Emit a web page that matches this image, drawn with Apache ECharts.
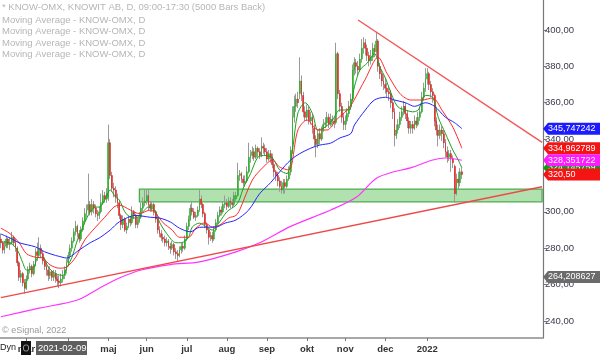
<!DOCTYPE html>
<html>
<head>
<meta charset="utf-8">
<script src="https://cdn.jsdelivr.net/npm/echarts@6/dist/echarts.min.js"></script>
<style>
  html, body { margin: 0; padding: 0; background: #fff; }
  #chart { width: 600px; height: 355px; }
</style>
</head>
<body>
<div id="chart"></div>
<script>
// daily candles KNOW-OMX, from 2021-02-09
const opens = [
  285,283,279,281,285,282,283,286,283,280, 272,264,266,261,258,263,268,270,266,271,
  278,276,280,277,273,270,268,265,267,264, 266,263,262,261,263,265,268,272,276,280,
  284,289,292,288,285,290,295,299,301,304, 300,304,302,299,298,300,305,309,307,308,
  338,320,313,312,308,305,298,293,296,290, 292,296,294,300,298,293,295,297,302,305,
  306,309,304,302,304,300,296,290,288,286, 285,283,284,281,280,282,278,277,276,279,
  281,280,285,292,296,302,300,297,298,301, 307,304,299,293,290,286,287,285,290,294,
  298,301,300,304,305,303,306,305,304,307, 309,320,321,318,316,317,322,330,331,333,
  330,335,333,331,336,335,333,329,332,330, 326,322,320,317,314,312,316,314,318,322,
  334,352,358,362,365,372,364,355,352,356, 350,352,346,340,337,343,340,345,348,349,
  352,348,351,350,349,387,365,358,352,348, 350,354,358,362,378,382,380,378,384,390,
  393,390,386,383,385,390,388,394,380,376, 372,370,368,366,365,360,355,342,345,348,
  352,355,358,354,350,346,348,346,350,348, 352,355,363,368,373,376,370,366,364,350,
  345,342,345,343,338,333,330,332,329,325, 310,318,316,322
]
const closes = [
  283,279,281,285,282,283,286,283,280,272, 264,266,261,258,263,268,270,266,271,278,
  276,280,277,273,270,268,265,267,264,266, 263,262,261,263,265,268,272,276,280,284,
  289,292,288,285,290,295,299,301,304,300, 304,302,299,298,300,305,309,307,310,338,
  320,313,312,308,305,298,293,296,290,292, 296,294,300,298,293,295,297,302,305,306,
  309,304,302,304,300,296,290,288,286,285, 283,284,281,280,282,278,277,276,279,281,
  280,285,292,296,302,300,297,298,301,307, 304,299,293,290,286,287,285,290,294,298,
  301,300,304,305,303,306,305,304,309,309, 320,321,318,316,317,322,330,331,333,330,
  335,333,331,336,335,333,329,332,330,326, 322,320,317,314,312,316,314,318,322,334,
  352,358,362,360,372,364,355,352,356,350, 352,346,340,337,343,340,345,348,349,352,
  348,351,350,349,387,365,358,352,348,350, 354,358,362,378,382,380,378,384,390,393,
  390,386,383,385,390,388,394,380,376,372, 370,368,366,365,360,355,342,345,348,352,
  355,358,354,350,346,348,346,350,348,352, 355,363,368,373,376,370,366,364,350,345,
  342,345,343,338,333,330,332,329,327,310, 318,316,322,320.5
]
const lows = [
  280,277,277,280,280,279,282,281,278,270, 262,261,259,255,257,262,266,264,265,270,
  273,275,275,271,268,265,262,263,262,262, 261,259,258,259,261,263,266,270,274,278,
  283,287,286,283,284,289,293,297,299,298, 298,299,297,295,296,299,304,305,305,306,
  318,311,308,305,302,296,290,291,289,288, 291,292,293,296,291,291,294,296,300,303,
  304,301,300,300,298,294,288,286,284,283, 281,281,279,277,279,276,274,273,275,277,
  278,279,284,290,295,298,296,295,297,300, 302,297,291,288,282,284,283,284,289,293,
  297,298,299,302,301,302,302,302,303,306, 308,317,316,314,314,316,321,327,329,328,
  329,330,329,330,332,331,327,328,327,324, 319,317,314,311,310,310,310,313,317,320,
  332,349,355,357,362,361,352,350,350,348, 348,343,336,330,335,337,339,344,346,347,
  346,347,347,346,348,362,355,349,345,345, 348,352,356,361,375,376,375,377,382,387,
  386,383,380,381,383,385,386,377,373,369, 367,365,363,361,357,351,336,340,343,346,
  350,353,351,346,343,343,343,345,346,347, 350,354,361,366,370,367,363,360,347,342,
  336,340,339,335,330,327,328,322,324,305, 309,312,314,318
]
const highs = [
  288,284,284,287,286,286,289,287,285,281, 273,268,267,263,265,270,272,271,273,280,
  283,286,282,279,275,272,270,270,268,268, 268,265,265,266,268,270,274,278,282,286,
  291,295,293,290,292,297,302,304,321,306, 307,306,304,301,303,310,312,311,313,348,
  340,322,316,314,310,306,299,298,297,294, 298,297,303,301,299,297,300,305,308,312,
  312,312,306,306,305,301,297,292,290,288, 287,286,285,283,284,283,280,279,281,283,
  283,287,294,298,304,306,302,300,303,312, 309,305,300,294,291,289,289,292,296,300,
  303,303,306,309,307,308,308,307,311,311, 327,323,322,320,320,325,338,334,336,335,
  337,336,335,341,338,337,335,334,334,332, 328,323,322,319,317,318,318,320,325,336,
  358,364,365,366,385,375,366,358,359,358, 355,354,348,342,345,346,347,351,352,355,
  354,354,353,352,393,388,367,360,354,353, 357,361,365,381,385,384,383,387,395,396,
  395,392,388,389,393,392,399,395,382,378, 375,373,371,369,367,362,357,348,351,355,
  358,361,360,356,352,350,350,353,352,355, 358,366,371,379,379,377,372,368,365,352,
  348,348,347,345,340,336,334,334,331,326, 321,322,324,324
]

// moving averages as [bar index, value]
const maShort = [
  [0,283.4],[5,283],[9,279],[12,272],[14,268],[18,269],[20,274.6],[23,275],[26,269.6],[30,266],
  [34,265],[36,269],[39,275],[42,284.5],[46,294],[49,300],[52,302.6],[54,302.6],[57,306.5],[60,312],
  [63,308],[65,306.5],[68,300],[71,297],[74,296.6],[77,299],[81,302.6],[85,300],[87,294.4],[91,288],
  [96,283],[99,283],[103,286],[105,291.6],[109,293.8],[113,291.6],[116,290],[120,294.4],[124,300],[129,303.7],
  [131,307],[133,313],[137,321],[141,330],[145,331],[149,329.6],[153,323],[157,321],[160,334],[163,354.4],
  [167,360],[171,354],[174,345],[178,346.6],[182,350.5],[186,356],[191,356],[194,368.7],[197,378],[201,381.8],
  [205,387],[208,379.6],[211,373.6],[215,363],[218,357.6],[222,356],[226,355],[229,356],[233,364],[237,363],
  [240,352],[244,343],[248,334],[251,328.5],[253,324.1]
]
const maMid = [
  [0,291],[5,288],[10,283],[14,277],[19,275],[23,274.5],[27,270.8],[32,269],[36,269.6],[41,275],
  [46,284.5],[52,291.6],[57,297],[62,302.6],[65,303.7],[71,301],[76,299],[82,301],[85,299],[89,294],
  [94,290],[98,286],[103,286],[107,291],[112,294],[116,291.6],[120,292.7],[125,296.6],[129,298],[131,301],
  [138,317.5],[144,324.6],[149,328.5],[153,324.6],[158,323],[163,345],[168,350.5],[174,345],[179,345],[184,350.5],
  [190,356],[193,360],[200,373],[207,385],[212,376],[219,365],[225,361.5],[231,361.5],[237,362.6],[242,356],
  [248,346.6],[253,334.96]
]
const maLong = [
  [0,287.8],[5,285.6],[10,283],[19,280.7],[24,278],[30,276],[32,275.5],[36,274.6],[43,279],[49,283],
  [54,285.6],[60,290],[65,294.5],[74,298],[82,297],[87,296.6],[93,294.4],[98,291],[104,289],[109,291.5],
  [118,291.6],[123,293.8],[129,295.5],[136,301],[142,310],[148,316],[153,322],[159,328.5],[164,332],[170,335],
  [175,336.7],[181,337.8],[186,340.6],[192,343],[194,347.7],[200,356],[205,361.5],[211,363],[216,361.5],[222,360],
  [227,358],[233,360],[238,358],[244,352],[249,349],[253,345.75]
]
const ma200 = [
  [0,242.3],[21,247],[42,251.5],[54,258],[65,263.6],[77,268],[93,271],[109,272.5],[129,278],[142,283],
  [159,292],[181,301],[195,308],[207,319],[226,324.6],[237,328.5],[244,329.6],[253,328.35]
]

// trend lines [bar index, value]
const resistLine = [[196, 405.5], [297, 338.2]]
const supportLine = [[0, 252.8], [297, 313.8]]
// support zone
const zoneTop = 312.5
const zoneBottom = 305.5
const zoneStart = 76

const tagValues = [264.208627, 345.747242, 334.962789, 324.145759, 328.351722, 320.50]
const tagTexts = ['264,208627', '345,747242', '334,962789', '324,145759', '328,351722', '320,50']
const tagColors = ['#6b6b6b', '#1c1cff', '#f41414', '#139a13', '#ff1aff', '#f41414']

const monthNames = ['jan', 'feb', 'mar', 'apr', 'maj', 'jun', 'jul', 'aug', 'sep', 'okt', 'nov', 'dec']

// trading days (weekdays) up to end of march 2022
const dates = []
for (let d = new Date(Date.UTC(2021, 1, 9)); d <= new Date(Date.UTC(2022, 2, 31)); d.setUTCDate(d.getUTCDate() + 1)) {
  const wd = d.getUTCDay()
  if (wd === 0 || wd === 6) continue
  dates.push(d.toISOString().slice(0, 10))
}
const lastBar = opens.length - 1

function isMonthStart(i) {
  if (i <= 0 || i > lastBar) return false
  return dates[i].slice(0, 7) !== dates[i - 1].slice(0, 7)
}

const wickData = opens.map((o, i) => [o, closes[i], lows[i], highs[i]])
const bodyData = opens.map((o, i) => [o, closes[i], Math.min(o, closes[i]), Math.max(o, closes[i])])

const FONT = '"Liberation Sans", Arial, sans-serif'

function maSeries(name, data, color, width) {
  return {
    name: name,
    type: 'line',
    data: data,
    smooth: 0.3,
    symbol: 'none',
    z: 4,
    lineStyle: { color: color, width: width },
    silent: true,
  }
}

const option = {
  animation: false,
  backgroundColor: '#fff',
  grid: { left: 0, right: 57, top: 0, bottom: 17 },
  xAxis: {
    type: 'category',
    data: dates,
    boundaryGap: true,
    axisLine: { show: true, lineStyle: { color: '#8c8c8c', width: 1.5 } },
    axisTick: {
      show: true,
      alignWithLabel: true,
      interval: (i) => isMonthStart(i),
      length: 3,
      lineStyle: { color: '#777' },
    },
    axisLabel: {
      interval: (i) => isMonthStart(i),
      formatter: (v) => {
        const m = +v.slice(5, 7)
        if (m === 1) return v.slice(0, 4)
        if (m === 4) return ''
        return monthNames[m - 1]
      },
      color: '#333',
      fontWeight: 'bold',
      fontSize: 9.5,
      fontFamily: FONT,
      margin: 6,
    },
    splitLine: { show: false },
  },
  yAxis: {
    type: 'value',
    position: 'right',
    min: 230.6,
    max: 416.5,
    splitNumber: 9,
    axisLine: { show: true, lineStyle: { color: '#777', width: 1.2 } },
    axisTick: { show: true, length: 4, lineStyle: { color: '#777' } },
    axisLabel: {
      showMinLabel: false,
      showMaxLabel: false,
      formatter: (v) => (Math.abs(v % 20) < 0.001 ? v.toFixed(2).replace('.', ',') : ''),
      color: '#3a3a4a',
      fontSize: 9.5,
      fontFamily: FONT,
      margin: 2,
    },
    splitLine: { show: false },
  },
  series: [
    {
      name: 'wicks',
      type: 'candlestick',
      data: wickData,
      barWidth: 1,
      z: 2,
      silent: true,
      itemStyle: { color: '#9a9a9a', color0: '#9a9a9a', borderColor: '#9a9a9a', borderColor0: '#9a9a9a', borderWidth: 1 },
      markArea: {
        silent: true,
        itemStyle: { color: 'rgba(100,196,96,0.5)', borderColor: '#4cab4c', borderWidth: 1.3 },
        data: [[{ xAxis: dates[zoneStart], yAxis: zoneTop }, { xAxis: dates[dates.length - 1], yAxis: zoneBottom }]],
      },
    },
    {
      name: 'bodies',
      type: 'candlestick',
      data: bodyData,
      barWidth: '75%',
      z: 3,
      silent: true,
      itemStyle: { color: '#22b222', color0: '#e41e1e', borderColor: '#22b222', borderColor0: '#e41e1e', borderWidth: 0.5 },
    },
    maSeries('ma short', maShort, '#1e9e1e', 1),
    maSeries('ma mid', maMid, '#ff2a2a', 1),
    maSeries('ma long', maLong, '#2424ff', 1),
    maSeries('ma 200', ma200, '#ff33ff', 1.2),
    {
      name: 'resist',
      type: 'line',
      data: resistLine,
      symbol: 'none',
      z: 5,
      silent: true,
      lineStyle: { color: '#f25a5a', width: 1.5 },
    },
    {
      name: 'support',
      type: 'line',
      data: supportLine,
      symbol: 'none',
      z: 5,
      silent: true,
      lineStyle: { color: '#f04848', width: 1.5 },
    },
  ],
}

const chart = echarts.init(document.getElementById('chart'), null, { renderer: 'canvas' })
chart.setOption(option)

const legendLines = [
  '* KNOW-OMX, KNOWIT AB, D, 09:00-17:30 (5000 Bars Back)',
  'Moving Average - KNOW-OMX, D',
  'Moving Average - KNOW-OMX, D',
  'Moving Average - KNOW-OMX, D',
  'Moving Average - KNOW-OMX, D',
]
const legendY = [7, 20, 31.5, 43, 54.5]

const graphics = legendLines.map((t, k) => ({
  type: 'text', x: 2, y: legendY[k], z: 100,
  style: { text: t, fill: '#b6b6b6', font: '9.5px ' + FONT, verticalAlign: 'middle' },
}))
graphics.push(
  { type: 'text', x: 2, y: 331, z: 100, style: { text: '© eSignal, 2022', fill: '#9a9a9a', font: '9px ' + FONT, verticalAlign: 'middle' } },
  { type: 'text', x: 0, y: 348, z: 100, style: { text: 'Dyn', fill: '#222', font: '9px ' + FONT, verticalAlign: 'middle' } },
  { type: 'rect', z: 100, shape: { x: 21, y: 341, width: 10, height: 14 }, style: { fill: '#111' } },
  { type: 'rect', z: 101, shape: { x: 23.5, y: 345, width: 5, height: 6, r: 2 }, style: { fill: 'none', stroke: '#999', lineWidth: 1 } },
  { type: 'rect', z: 100, shape: { x: 36, y: 341, width: 51, height: 14 }, style: { fill: '#5e5e5e' } },
  { type: 'text', x: 38, y: 348.5, z: 101, style: { text: '2021-02-09', fill: '#fff', font: '9.5px ' + FONT, verticalAlign: 'middle' } }
)
tagValues.forEach((v, k) => {
  const y = chart.convertToPixel({ yAxisIndex: 0 }, v)
  graphics.push({
    type: 'polygon', z: 110 + k,
    shape: { points: [[543, y], [548, y - 6], [600, y - 6], [600, y + 6], [548, y + 6]] },
    style: { fill: tagColors[k] },
  })
  graphics.push({
    type: 'text', x: 548, y: y, z: 110 + k,
    style: { text: tagTexts[k], fill: '#fff', font: '9px ' + FONT, verticalAlign: 'middle' },
  })
})
chart.setOption({ graphic: graphics })
</script>
</body>
</html>
